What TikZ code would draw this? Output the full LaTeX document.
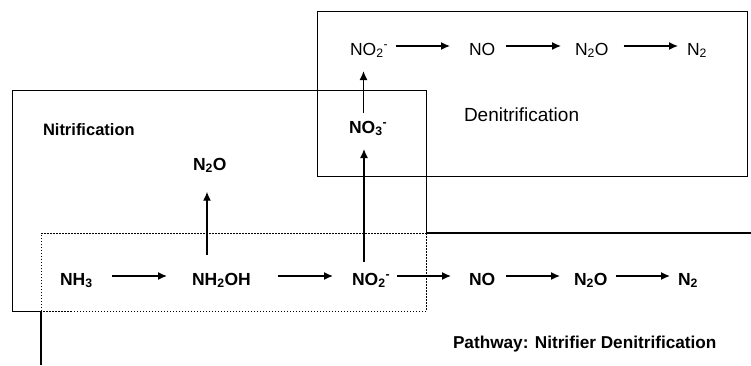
\documentclass[tikz,border=0pt]{standalone}
\usepackage{fontspec}
\setmainfont{Liberation Sans}
\usetikzlibrary{arrows.meta}
\begin{document}
\begin{tikzpicture}[x=1pt,y=-1pt,
  sp/.style={inner sep=0pt,outer sep=0pt,anchor=base west,text height=12.5pt,text depth=3.5pt,font=\fontsize{17.5}{20}\selectfont\bfseries},
  spr/.style={sp,font=\fontsize{17.5}{20}\selectfont},
  lbl/.style={inner sep=0pt,outer sep=0pt,anchor=base west},
  arr/.style={line width=1.4pt,-{Latex[length=9pt,width=8pt]}},
  box/.style={line width=1pt},
  dotbox/.style={line width=0.9pt,dash pattern=on 1.5pt off 1.5pt},
  pbox/.style={line width=1.3pt}]
\useasboundingbox (0,0) rectangle (751,365);
\fill[white] (0,0) rectangle (751,365);

% boxes
\draw[box] (317,11) rectangle (747,176);
\draw[box] (41,311) -- (12,311) -- (12,90) -- (426,90) -- (426,233);
\draw[dotbox] (426,233) -- (426,311) -- (41,311);
\draw[pbox] (41,365) -- (41,311);
\draw[pbox] (426,233) -- (751,233);
\draw[dotbox] (41,311) -- (41,233) -- (426,233);

% labels
\node[lbl,font=\fontsize{16.5}{20}\selectfont\bfseries] (nitlbl) at (43,135) {Nitrification};
\node[lbl,font=\fontsize{19}{22}\selectfont] (denlbl) at (464,121) {Denitrification};
\node[lbl,font=\fontsize{17.2}{20}\selectfont\bfseries] (pathlbl) at (453,348) {Pathway: Nitrifier Denitrification};

% top row (denitrification)
\node[spr] (dNO2) at (350,55) {NO\textsubscript{2}\textsuperscript{-}};
\node[spr] (dNO)  at (469,55) {NO};
\node[spr] (dN2O) at (575,55) {N\textsubscript{2}O};
\node[spr] (dN2)  at (687,55) {N\textsubscript{2}};
\node[sp] (NO3) at (349,133) {NO\textsubscript{3}\textsuperscript{-}};
\node[sp] (uN2O) at (193,170) {N\textsubscript{2}O};

% bottom row
\node[sp] (NH3)   at (60,285)  {NH\textsubscript{3}};
\node[sp] (NH2OH) at (192,285) {NH\textsubscript{2}OH};
\node[sp] (bNO2)  at (352,285) {NO\textsubscript{2}\textsuperscript{-}};
\node[sp] (bNO)   at (469,285) {NO};
\node[sp] (bN2O)  at (574,285) {N\textsubscript{2}O};
\node[sp] (bN2)   at (678,285) {N\textsubscript{2}};

% horizontal arrows top
\draw[arr,shorten <=7.8pt,shorten >=19pt] ([yshift=4.5pt]dNO2.east) -- ([yshift=4.5pt]dNO.west);
\draw[arr,shorten <=10.7pt,shorten >=14pt] ([yshift=4.5pt]dNO.east) -- ([yshift=4.5pt]dN2O.west);
\draw[arr,shorten <=15pt,shorten >=9pt] ([yshift=4.5pt]dN2O.east) -- ([yshift=4.5pt]dN2.west);

% horizontal arrows bottom
\draw[arr,shorten <=19.9pt,shorten >=25pt] ([yshift=4.5pt]NH3.east) -- ([yshift=4.5pt]NH2OH.west);
\draw[arr,shorten <=26.7pt,shorten >=19pt] ([yshift=4.5pt]NH2OH.east) -- ([yshift=4.5pt]bNO2.west);
\draw[arr,shorten <=6.8pt,shorten >=18pt] ([yshift=4.5pt]bNO2.east) -- ([yshift=4.5pt]bNO.west);
\draw[arr,shorten <=10.7pt,shorten >=14pt] ([yshift=4.5pt]bNO.east) -- ([yshift=4.5pt]bN2O.west);
\draw[arr,shorten <=8pt,shorten >=8pt] ([yshift=4.5pt]bN2O.east) -- ([yshift=4.5pt]bN2.west);

% vertical arrows
\draw[arr,shorten <=17.5pt,shorten >=18.2pt] ([xshift=15pt]NH2OH.north west) -- ([xshift=14pt]uN2O.south west);
\draw[arr,shorten <=10.5pt,shorten >=12.5pt] ([xshift=12pt]bNO2.north west) -- ([xshift=15pt]NO3.south west);
\draw[arr,shorten <=7.5pt,shorten >=12.5pt] ([xshift=14.5pt]NO3.north west) -- ([xshift=13.5pt]dNO2.south west);
\end{tikzpicture}
\end{document}
